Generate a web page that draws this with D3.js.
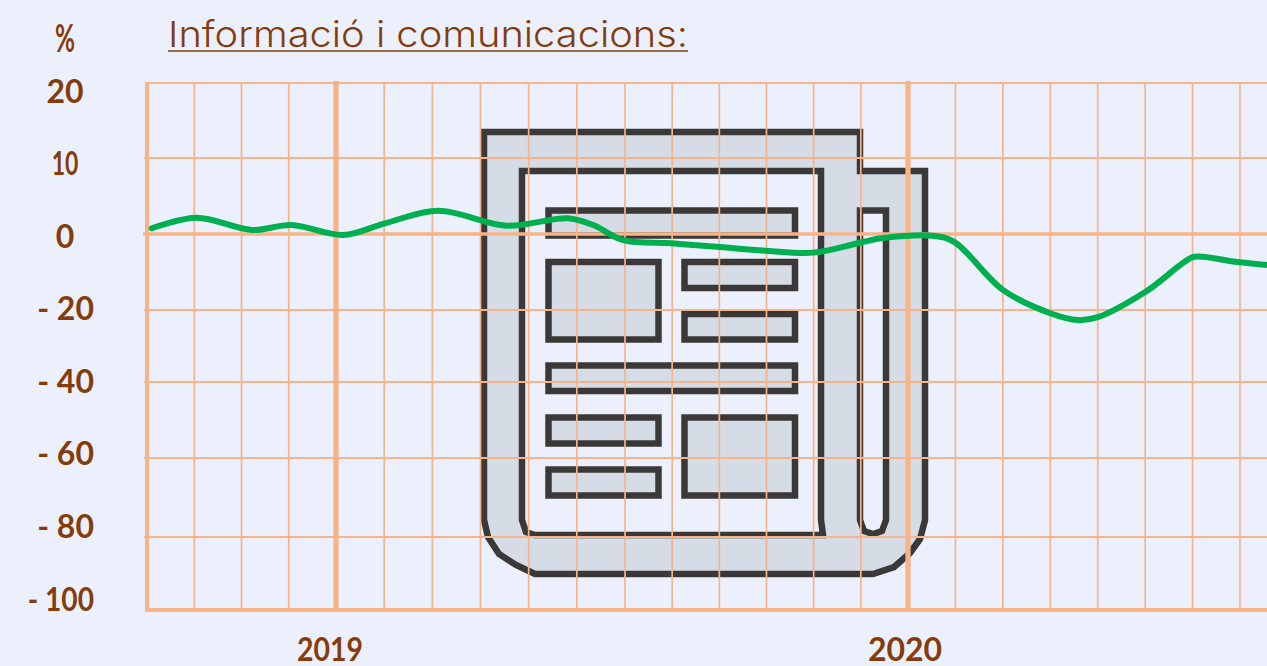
<!DOCTYPE html>
<html lang="ca">
<head>
<meta charset="utf-8">
<script src="https://cdn.jsdelivr.net/npm/d3@7/dist/d3.min.js"></script>
<style>
html,body{margin:0;padding:0;background:#ebf0fc;overflow:hidden}
svg{display:block}
.lbl{font-family:Lato,sans-serif;font-weight:700;fill:#843c0c}
</style>
</head>
<body>
<svg id="c" width="1267" height="666"></svg>
<script>
const titleText = "Informació i comunicacions:";
const unitLabel = "%";
const months = ["2018-09","2018-10","2018-11","2018-12","2019-01","2019-02","2019-03","2019-04","2019-05","2019-06","2019-07","2019-08","2019-09","2019-10","2019-11","2019-12","2020-01","2020-02","2020-03","2020-04","2020-05","2020-06","2020-07","2020-08"];
// series readings: fractional month position on the time axis and the value there
const monthPos = [0.10,1.05,2.22,3.06,4.15,5.02,6.12,7.54,8.81,9.34,9.96,10.99,12.01,13.0,13.99,14.98,15.47,16.57,16.99,18.0,19.0,19.58,20.0,21.01,22.0,22.21,23.0,23.63];
const values = [0.75,2.14,0.53,1.18,-0.26,1.41,3.07,1.09,2.07,1.18,-1.6,-2.45,-3.42,-4.4,-4.9,-2.3,-1.05,-0.53,-2.2,-14.7,-20.9,-22.8,-22,-15.2,-6.1,-6,-7.45,-8.2];
const yTicks = [20,10,0,-20,-40,-60,-80,-100];
const yLabels = ["20","10","0","- 20","- 40","- 60","- 80","- 100"];
const yearTicks = ["2019-01","2020-01"];
const yearLabels = ["2019","2020"];

const GRID="#f7b489", BROWN="#843c0c", GREEN="#00b050", DARK="#3b3938", FILL="#d5dce6", BG="#ebf0fc";

const svg = d3.select("#c");
const idx = d3.scaleOrdinal(months, d3.range(months.length));
const x = d3.scaleLinear().domain([0,4,10,16,23]).range([147,336,625,908,1240]);
const xm = m => x(idx(m));
const y = d3.scaleLinear().domain(yTicks).range([83,158,234,310,382,458,537,610]);
const yLab = d3.scalePoint().domain(yLabels).range([90,598]);

// decorative newspaper icon
const icon = svg.append("g").attr("stroke",DARK).attr("stroke-width",6.5).attr("stroke-linejoin","miter");
const outer = "M484 132H860V171H925V520L920 539L910 553L894 567L873 574H535L516 565L499 554L488 537L484 520Z";
const page = "M522 171H821V520L823 535H535L526 532L522 520Z";
const slot = "M860 210.5H886V520L882 531L873 534L864 531L860 520Z";
icon.append("path").attr("d",outer).attr("fill",FILL);
icon.append("path").attr("d",page).attr("fill",BG);
icon.append("path").attr("d",slot).attr("fill",BG);
const boxes = [[548.5,210.5,795,235.5],[548.5,262,658.5,339.5],[684.5,262,795,288],[684.5,314,795,339.5],[548.5,365.5,795,391],[548.5,417.5,658.5,443.5],[548.5,469.5,658.5,495.5],[684.5,417.5,795,495.5]];
icon.selectAll("rect").data(boxes).join("rect")
  .attr("x",d=>d[0]).attr("y",d=>d[1]).attr("width",d=>d[2]-d[0]).attr("height",d=>d[3]-d[1]).attr("fill",FILL);

// grid
const gridRight = 1267;
svg.append("g").selectAll("line").data(yTicks).join("line")
  .attr("x1",d=>d===0?143:(d===20||d===-100)?145:144).attr("x2",gridRight)
  .attr("y1",y).attr("y2",y)
  .attr("stroke",GRID)
  .attr("stroke-width",d=>d===0?3.5:d===-100?4:2);
const isYear = m => yearTicks.includes(m);
svg.append("g").selectAll("line").data(months).join("line")
  .attr("x1",xm).attr("x2",xm)
  .attr("y1",m=>isYear(m)?81:83).attr("y2",m=>isYear(m)?612:610)
  .attr("stroke",GRID)
  .attr("stroke-width",(m,i)=>i===0?4:isYear(m)?5.3:1.7);

// series
const line = d3.line().x((d,i)=>x(monthPos[i])).y(d=>y(d)).curve(d3.curveCatmullRom.alpha(0.5));
svg.append("path").datum(values).attr("d",line)
  .attr("fill","none").attr("stroke",GREEN).attr("stroke-width",6).attr("stroke-linecap","round");

// fits a label to the narrow width of the reference's hand-drawn "1"
function squeeze(sel, f){
  sel.each(function(d){
    const k = f(d);
    if(k!==1){ d3.select(this).attr("textLength",this.getComputedTextLength()*k).attr("lengthAdjust","spacingAndGlyphs"); }
  });
}

// labels
svg.append("g").selectAll("text").data(yLabels).join("text").attr("class","lbl")
  .attr("font-size",32)
  .attr("x",d=>d.startsWith("-")?94:65)
  .attr("text-anchor",d=>d.startsWith("-")?"end":"middle")
  .attr("y",d=>yLab(d))
  .attr("dominant-baseline","central")
  .text(d=>d)
  .call(squeeze,d=>d==="10"?0.72:d==="- 100"?0.88:1);
svg.append("text").attr("class","lbl").attr("x",65).attr("y",37).attr("font-size",38)
  .attr("text-anchor","middle").attr("dominant-baseline","central")
  .attr("textLength",20).attr("lengthAdjust","spacingAndGlyphs").text(unitLabel);
svg.append("g").selectAll("text").data(yearLabels).join("text").attr("class","lbl")
  .attr("font-size",32)
  .attr("x",(d,i)=>xm(yearTicks[i])-(i===0?6:3))
  .attr("y",648)
  .attr("text-anchor","middle")
  .attr("dominant-baseline","central")
  .text(d=>d)
  .call(squeeze,d=>d==="2019"?0.89:1);

// title
svg.append("text").attr("x",168).attr("y",47)
  .attr("font-family","Inter, sans-serif").attr("font-weight",300).attr("font-size",36)
  .attr("fill",BROWN).attr("textLength",520).attr("lengthAdjust","spacingAndGlyphs")
  .text(titleText);
svg.append("line").attr("x1",168).attr("x2",688).attr("y1",51).attr("y2",51)
  .attr("stroke",BROWN).attr("stroke-width",1.6);
</script>
</body>
</html>
